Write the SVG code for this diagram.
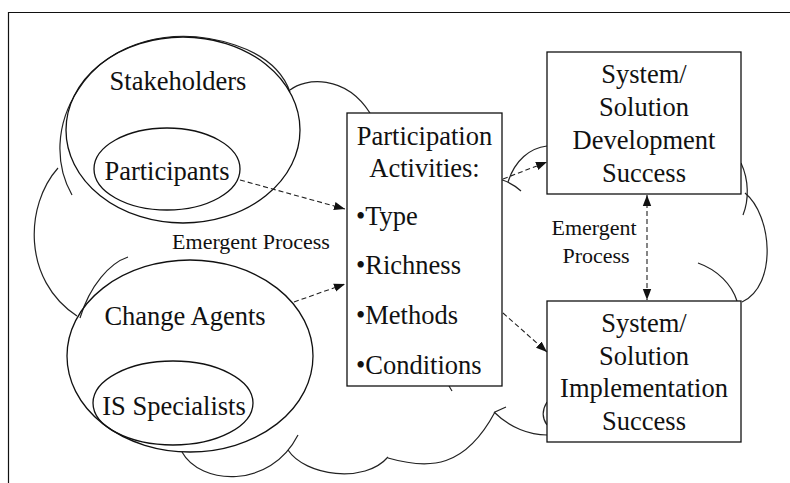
<svg xmlns="http://www.w3.org/2000/svg" width="790" height="483" viewBox="0 0 790 483">
<style>
.t{font-family:"Liberation Serif","Times New Roman",serif;font-size:26.5px;fill:#111;}
.s{font-family:"Liberation Serif","Times New Roman",serif;font-size:22px;fill:#111;}
.m{text-anchor:middle;}
.line{fill:none;stroke:#222;stroke-width:1.2;}
.shape{fill:none;stroke:#111;stroke-width:1.3;}
.box{fill:#fff;stroke:#111;stroke-width:1.3;}
.dash{fill:none;stroke:#222;stroke-width:1.1;stroke-dasharray:5,3;}
</style>
<defs>
<marker id="ah" markerUnits="userSpaceOnUse" markerWidth="12" markerHeight="10" refX="11" refY="5" orient="auto">
<path d="M0,0.8 L11,5 L0,9.2 Z" fill="#111"/>
</marker>
<marker id="ahs" markerUnits="userSpaceOnUse" markerWidth="12" markerHeight="10" refX="11" refY="5" orient="auto-start-reverse">
<path d="M0,0.8 L11,5 L0,9.2 Z" fill="#111"/>
</marker>
</defs>
<rect width="790" height="483" fill="#fff"/>
<path d="M8.5,483 V12.5 H790" fill="none" stroke="#111" stroke-width="1.2"/>

<g id="cloud" class="line">
<path d="M72,195 C55,165 55,125 78,90 C110,40 175,25 235,45 C265,55 283,72 290,92"/>
<path d="M290,90 C305,78 345,74 370,113"/>
<path d="M58,168 C25,205 22,280 77,316"/>
<path d="M128,257 C110,263 90,285 80,318"/>
<path d="M182,452 C200,485 270,490 298,435"/>
<path d="M288,450 C305,476 365,484 388,457"/>
<path d="M388,458 C430,470 465,468 495,412 L506,407"/>
<path d="M494,412 C510,428 530,435 547,435"/>
<path d="M547,402 C542,410 542,418 547,425"/>
<path d="M449,386 L452,391"/>
<path d="M508,182 C515,160 530,148 547,146"/>
<path d="M500,179 Q512,183 521,191"/>
<path d="M741,163 C749,180 749,200 743,215"/>
<path d="M745,193 C772,215 778,285 742,302"/>
<path d="M698,263 C718,270 732,285 737,301"/>
</g>

<g id="stakeholders">
<ellipse class="shape" cx="183" cy="130" rx="117" ry="93"/>
<text class="t m" x="178" y="90">Stakeholders</text>
</g>
<g id="participants">
<ellipse class="shape" cx="167" cy="169" rx="73" ry="41"/>
<text class="t m" x="167" y="180">Participants</text>
</g>
<g id="change-agents">
<ellipse class="shape" cx="190" cy="356" rx="123" ry="96"/>
<text class="t m" x="185" y="325">Change Agents</text>
</g>
<g id="is-specialists">
<ellipse class="shape" cx="173" cy="403" rx="80" ry="42"/>
<text class="t m" x="174" y="415">IS Specialists</text>
</g>
<g id="emergent-left">
<text class="s m" x="251" y="249">Emergent Process</text>
</g>

<g id="participation">
<rect class="box" x="347" y="113" width="155" height="273"/>
<text class="t m" x="424.5" y="145">Participation</text>
<text class="t m" x="424.5" y="177">Activities:</text>
<text class="t" x="356" y="225">•Type</text>
<text class="t" x="356" y="274">•Richness</text>
<text class="t" x="356" y="324">•Methods</text>
<text class="t" x="356" y="374">•Conditions</text>
</g>

<g id="development">
<rect class="box" x="547" y="52" width="194" height="142"/>
<text class="t m" x="644" y="83">System/</text>
<text class="t m" x="644" y="116">Solution</text>
<text class="t m" x="644" y="149">Development</text>
<text class="t m" x="644" y="182">Success</text>
</g>

<g id="implementation">
<rect class="box" x="547" y="301" width="194" height="141"/>
<text class="t m" x="644" y="332">System/</text>
<text class="t m" x="644" y="365">Solution</text>
<text class="t m" x="644" y="397">Implementation</text>
<text class="t m" x="644" y="430">Success</text>
</g>

<g id="emergent-right">
<text class="s m" x="594" y="235">Emergent</text>
<text class="s m" x="596" y="263">Process</text>
</g>

<g id="connectors">
<path class="dash" d="M240,180 L345,209" marker-end="url(#ah)"/>
<path class="dash" d="M294,302 L345,284" marker-end="url(#ah)"/>
<path class="dash" d="M503,179 L547,162" marker-end="url(#ah)"/>
<path class="dash" d="M503,313 L547,352" marker-end="url(#ah)"/>
<path class="dash" d="M647,195 L647,300" marker-start="url(#ahs)" marker-end="url(#ah)"/>
</g>
</svg>
